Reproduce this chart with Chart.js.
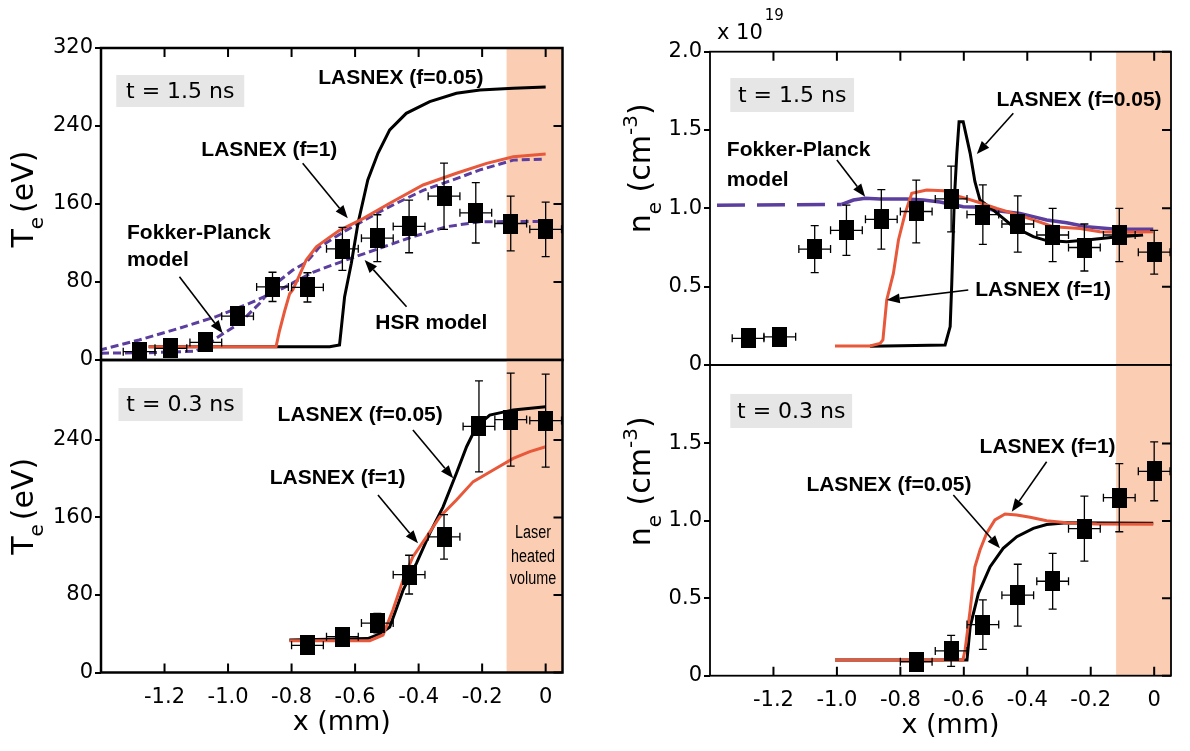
<!DOCTYPE html>
<html>
<head>
<meta charset="utf-8">
<title>Te and ne profiles</title>
<script src="https://cdn.jsdelivr.net/npm/chart.js@4.4.1/dist/chart.umd.min.js"></script>
<style>
  body { margin: 0; background: #fff; }
  #wrap { position: relative; width: 1190px; height: 751px; }
  #wrap canvas { position: absolute; left: 0; top: 0; }
</style>
</head>
<body>
<div id="wrap">
  <canvas id="teLate" width="1190" height="751"></canvas>
  <canvas id="teEarly" width="1190" height="751"></canvas>
  <canvas id="neLate" width="1190" height="751"></canvas>
  <canvas id="neEarly" width="1190" height="751"></canvas>
</div>
<script>
// ---------- axis ticks ----------
const xTicks = [-1.2, -1.0, -0.8, -0.6, -0.4, -0.2, 0];
const xTickLabels = ['-1.2', '-1.0', '-0.8', '-0.6', '-0.4', '-0.2', '0'];
const teTicksTop = [0, 80, 160, 240, 320];
const teLabelsTop = ['0', '80', '160', '240', '320'];
const teTicksBottom = [0, 80, 160, 240];
const teLabelsBottom = ['0', '80', '160', '240'];
const neTicksTop = [0, 0.5, 1.0, 1.5, 2.0];
const neLabelsTop = ['0', '0.5', '1.0', '1.5', '2.0'];
const neTicksBottom = [0, 0.5, 1.0, 1.5];
const neLabelsBottom = ['0', '0.5', '1.0', '1.5'];

// horizontal error of every measured point (mm)
const X_ERR = 0.05;

// ---------- Te, t = 1.5 ns ----------
const teLateX   = [-1.28, -1.18, -1.07, -0.97, -0.86, -0.75, -0.64, -0.53, -0.43, -0.32, -0.22, -0.11, 0];
const teLateY   = [8.5, 12, 18, 45, 75, 74.5, 114, 125, 137, 168, 151, 140, 134];
const teLateErr = [5, 5, 5, 8, 15, 15, 22, 24, 27, 34, 31, 28, 28];
const lasTeLate05X = [-1.25, -0.68, -0.649, -0.633, -0.612, -0.591, -0.56, -0.528, -0.491, -0.439, -0.365, -0.281, -0.207, -0.102, 0];
const lasTeLate05Y = [13.6, 13.6, 15.4, 65, 99, 140, 184.6, 212, 236, 253, 265, 273.5, 277, 278.7, 280];
const lasTeLate1X  = [-1.25, -0.849, -0.838, -0.822, -0.806, -0.796, -0.775, -0.754, -0.722, -0.68, -0.649, -0.575, -0.491, -0.386, -0.281, -0.186, -0.102, 0];
const lasTeLate1Y  = [13.6, 13.6, 30, 50, 68, 72, 87, 102.6, 116, 126, 133, 145, 160.7, 179.5, 191.5, 201.7, 208.5, 211.3];
const fpTeLateX  = [-1.40, -1.25, -1.10, -1.006, -0.964, -0.901, -0.849, -0.796, -0.754, -0.712, -0.628, -0.523, -0.47, -0.386, -0.281, -0.207, -0.102, -0.01];
const fpTeLateY  = [7, 7.5, 9, 29, 37.6, 58, 78.6, 92.3, 100, 116, 133, 152, 160.7, 174, 186, 195, 205, 206];
const hsrTeLateX = [-1.406, -1.28, -1.154, -1.038, -0.933, -0.828, -0.733, -0.628, -0.523, -0.418, -0.312, -0.207, -0.102, -0.01];
const hsrTeLateY = [10, 20.5, 32.5, 44.4, 58, 73.5, 90, 102.6, 114.6, 126.5, 136.7, 141.8, 142, 142];

// ---------- Te, t = 0.3 ns ----------
const teEarlyX   = [-0.75, -0.64, -0.53, -0.43, -0.32, -0.21, -0.11, 0];
const teEarlyY   = [28, 37, 51, 101, 140, 254, 261, 260];
const teEarlyErr = [5, 5, 10, 20, 23, 47, 48, 48];
const lasTeEarly05X = [-0.807, -0.56, -0.52, -0.491, -0.449, -0.407, -0.365, -0.323, -0.281, -0.249, -0.218, -0.176, -0.102, 0];
const lasTeEarly05Y = [33.5, 35, 40, 47, 85, 112.7, 143.6, 171, 205.6, 233, 253.7, 265.7, 271, 274.3];
const lasTeEarly1X  = [-0.807, -0.554, -0.512, -0.481, -0.449, -0.418, -0.375, -0.333, -0.281, -0.228, -0.165, -0.102, -0.05, 0];
const lasTeEarly1Y  = [32.8, 32.8, 38.7, 64.5, 95.5, 119.5, 140, 160.8, 178, 197, 209, 221, 228, 233];

// ---------- ne (1e19 cm^-3), t = 1.5 ns ----------
const neLateX   = [-1.28, -1.18, -1.07, -0.97, -0.86, -0.75, -0.64, -0.54, -0.43, -0.32, -0.22, -0.11, 0];
const neLateY   = [0.17, 0.18, 0.74, 0.86, 0.93, 0.98, 1.06, 0.96, 0.90, 0.83, 0.75, 0.83, 0.72];
const neLateErr = [0.02, 0.02, 0.15, 0.16, 0.19, 0.2, 0.21, 0.19, 0.18, 0.17, 0.15, 0.17, 0.14];
const lasNeLate05X = [-0.896, -0.659, -0.643, -0.638, -0.63, -0.622, -0.615, -0.602, -0.58, -0.565, -0.549, -0.507, -0.444, -0.381, -0.339, -0.276, -0.213, -0.129, -0.035];
const lasNeLate05Y = [0.12, 0.128, 0.245, 0.521, 1.053, 1.351, 1.553, 1.553, 1.351, 1.17, 1.053, 0.989, 0.883, 0.819, 0.794, 0.787, 0.798, 0.815, 0.83];
const lasNeLate1X  = [-1.006, -0.896, -0.864, -0.855, -0.843, -0.822, -0.806, -0.785, -0.764, -0.717, -0.665, -0.612, -0.549, -0.496, -0.444, -0.381, -0.318, -0.234, -0.171, -0.108, -0.003];
const lasNeLate1Y  = [0.121, 0.121, 0.138, 0.16, 0.415, 0.585, 0.798, 0.968, 1.096, 1.117, 1.113, 1.075, 1.036, 1.0, 0.968, 0.926, 0.883, 0.872, 0.851, 0.847, 0.851];
const fpNeLateX = [-1.378, -0.985, -0.948, -0.911, -0.864, -0.78, -0.728, -0.675, -0.602, -0.549, -0.496, -0.423, -0.339, -0.276, -0.213, -0.129, -0.003];
const fpNeLateY = [1.02, 1.025, 1.053, 1.064, 1.06, 1.06, 1.053, 1.04, 1.01, 1.007, 0.985, 0.968, 0.926, 0.908, 0.883, 0.868, 0.866];

// ---------- ne (1e19 cm^-3), t = 0.3 ns ----------
const neEarlyX   = [-0.75, -0.64, -0.54, -0.43, -0.32, -0.22, -0.11, 0];
const neEarlyY   = [0.09, 0.16, 0.33, 0.52, 0.61, 0.95, 1.15, 1.32];
const neEarlyErr = [0.02, 0.1, 0.16, 0.2, 0.18, 0.21, 0.22, 0.19];
const lasNeEarly05X = [-1.006, -0.59, -0.58, -0.554, -0.517, -0.476, -0.433, -0.381, -0.339, -0.276, -0.003];
const lasNeEarly05Y = [0.101, 0.101, 0.317, 0.532, 0.704, 0.823, 0.898, 0.952, 0.977, 0.988, 0.984];
const lasNeEarly1X  = [-1.006, -0.603, -0.596, -0.58, -0.565, -0.549, -0.528, -0.502, -0.47, -0.433, -0.391, -0.339, -0.276, -0.181, -0.003];
const lasNeEarly1Y  = [0.101, 0.101, 0.166, 0.424, 0.704, 0.812, 0.92, 1.006, 1.045, 1.038, 1.023, 1.001, 0.988, 0.98, 0.978];

// ---------- styling ----------
const BLACK = '#000', ORANGE = '#e8583a', PURPLE = '#5b3e9e', SHADE = '#fbcdb2', BOX = '#e6e6e6';
const FONT = '"DejaVu Sans", sans-serif';
const BOLD = 'bold 21px "Liberation Sans", Arial, sans-serif';
const FP_DASH_END = -0.99;

// square marker, a bit taller than wide like the original
const square = document.createElement('canvas');
square.width = 15; square.height = 20;
square.getContext('2d').fillRect(0, 0, 15, 20);

function pts(xs, ys) { return xs.map((x, i) => ({ x: x, y: ys[i] })); }

function curve(xs, ys, color, order, extra) {
  return Object.assign({
    data: pts(xs, ys), showLine: true, borderColor: color, borderWidth: 3,
    pointRadius: 0, pointHoverRadius: 0, fill: false, tension: 0, order: order
  }, extra || {});
}
function markers(xs, ys) {
  return { data: pts(xs, ys), showLine: false, pointStyle: square, pointRadius: 10, order: 0 };
}

function arrow(ctx, x0, y0, x1, y1) {
  const ang = Math.atan2(y1 - y0, x1 - x0), L = 13, W = 5;
  const bx = x1 - L * Math.cos(ang), by = y1 - L * Math.sin(ang);
  ctx.lineWidth = 1.6;
  ctx.beginPath(); ctx.moveTo(x0, y0); ctx.lineTo(bx, by); ctx.stroke();
  ctx.beginPath(); ctx.moveTo(x1, y1);
  ctx.lineTo(bx + W * Math.sin(ang), by - W * Math.cos(ang));
  ctx.lineTo(bx - W * Math.sin(ang), by + W * Math.cos(ang));
  ctx.closePath(); ctx.fill();
}

// rotated title made of pieces (for sub/superscripts)
function richTitle(ctx, parts, bx, cy) {
  ctx.save();
  ctx.translate(bx, cy);
  ctx.rotate(-Math.PI / 2);
  ctx.textAlign = 'left'; ctx.textBaseline = 'alphabetic';
  let total = 0;
  parts.forEach(p => { ctx.font = p.size + 'px ' + FONT; p.w = ctx.measureText(p.t).width; total += p.w + (p.gap || 0); });
  let x = -total / 2;
  parts.forEach(p => { ctx.font = p.size + 'px ' + FONT; ctx.fillText(p.t, x, p.dy || 0); x += p.w + (p.gap || 0); });
  ctx.restore();
}

function panelPlugin(p) {
  return {
    id: 'panel',
    beforeDatasetsDraw(chart) {
      const { ctx, chartArea: a, scales: { x, y } } = chart;
      ctx.save();
      const xs = x.getPixelForValue(p.laserFrom);
      ctx.fillStyle = SHADE;
      ctx.fillRect(xs, a.top, a.right - xs, a.bottom - a.top);
      const b = p.timeBox;
      const l = x.getPixelForValue(b.x0), r = x.getPixelForValue(b.x1);
      const t = y.getPixelForValue(b.y1), bt = y.getPixelForValue(b.y0);
      ctx.fillStyle = BOX;
      ctx.fillRect(l, t, r - l, bt - t);
      ctx.fillStyle = BLACK;
      ctx.font = '22px ' + FONT;
      ctx.textAlign = 'center'; ctx.textBaseline = 'middle';
      ctx.fillText(b.text, (l + r) / 2, (t + bt) / 2 + 1);
      ctx.restore();
    },
    afterDatasetsDraw(chart) {
      const { ctx, chartArea: a, scales: { x, y } } = chart;
      ctx.save();
      ctx.strokeStyle = BLACK; ctx.fillStyle = BLACK;

      // error bars
      ctx.lineWidth = 1.3;
      p.err.x.forEach((vx, i) => {
        const vy = p.err.y[i], e = p.err.e[i];
        const cx = x.getPixelForValue(vx), cy = y.getPixelForValue(vy);
        const x0 = x.getPixelForValue(vx - X_ERR), x1 = x.getPixelForValue(vx + X_ERR);
        const y0 = y.getPixelForValue(vy + e), y1 = y.getPixelForValue(vy - e);
        ctx.beginPath();
        ctx.moveTo(x0, cy); ctx.lineTo(x1, cy);
        ctx.moveTo(x0, cy - 4); ctx.lineTo(x0, cy + 4);
        ctx.moveTo(x1, cy - 4); ctx.lineTo(x1, cy + 4);
        ctx.moveTo(cx, y0); ctx.lineTo(cx, y1);
        ctx.moveTo(cx - 4, y0); ctx.lineTo(cx + 4, y0);
        ctx.moveTo(cx - 4, y1); ctx.lineTo(cx + 4, y1);
        ctx.stroke();
      });

      // frame and inward ticks
      ctx.lineWidth = p.frameW;
      ctx.strokeRect(a.left, a.top, a.right - a.left, a.bottom - a.top);
      ctx.lineWidth = 2;
      ctx.beginPath();
      xTicks.forEach(v => {
        const px = x.getPixelForValue(v);
        if (p.ticksTop) { ctx.moveTo(px, a.top); ctx.lineTo(px, a.top + 9); }
        if (p.ticksBottom) { ctx.moveTo(px, a.bottom); ctx.lineTo(px, a.bottom - 9); }
      });
      p.yTicks.forEach(v => {
        const py = y.getPixelForValue(v);
        ctx.moveTo(a.right, py); ctx.lineTo(a.right - 9, py);
      });
      ctx.stroke();

      // labels and arrows
      ctx.font = BOLD; ctx.textBaseline = 'middle';
      p.texts.forEach(t => {
        ctx.textAlign = t.align || 'center';
        ctx.fillText(t.text, x.getPixelForValue(t.x), y.getPixelForValue(t.y));
      });
      p.arrows.forEach(ar => arrow(ctx,
        x.getPixelForValue(ar[0]), y.getPixelForValue(ar[1]),
        x.getPixelForValue(ar[2]), y.getPixelForValue(ar[3])));

      if (p.laserText) {
        const lt = p.laserText;
        ctx.font = '18px "Liberation Sans", Arial, sans-serif';
        ctx.textAlign = 'center';
        lt.lines.forEach((s, i) => {
          ctx.save();
          ctx.translate(x.getPixelForValue(lt.x), y.getPixelForValue(lt.ys[i]));
          ctx.scale(0.8, 1);
          ctx.fillText(s, 0, 0);
          ctx.restore();
        });
      }

      // axis titles
      richTitle(ctx, p.yTitle, a.left - p.titleOff, (a.top + a.bottom) / 2 + p.titleDy);
      if (p.xLabels) {
        ctx.font = '27px ' + FONT;
        ctx.textAlign = 'center'; ctx.textBaseline = 'middle';
        ctx.fillText('x (mm)', (a.left + a.right) / 2 + 10, a.bottom + 50);
      }
      if (p.exponent) {
        ctx.font = '21px ' + FONT;
        ctx.textAlign = 'left'; ctx.textBaseline = 'middle';
        ctx.fillText('x 10', a.left + 7, a.top - 18);
        const w = ctx.measureText('x 10').width;
        ctx.font = '15px ' + FONT;
        ctx.fillText('19', a.left + 9 + w, a.top - 36);
      }
      ctx.restore();
    }
  };
}

function makeChart(id, p) {
  const a = p.area;
  const xH = p.xLabels ? 40 : 0;
  new Chart(document.getElementById(id), {
    type: 'scatter',
    data: { datasets: p.datasets },
    options: {
      responsive: false, animation: false, devicePixelRatio: 1, events: [],
      layout: { padding: { left: a.left - 60, right: 1190 - a.right, top: a.top,
        bottom: 751 - a.bottom - xH } },
      plugins: { legend: { display: false }, tooltip: { enabled: false } },
      scales: {
        x: {
          type: 'linear', min: -1.40, max: 0.053, display: p.xLabels,
          afterFit: s => { s.height = xH; },
          afterBuildTicks: s => { s.ticks = xTicks.map(v => ({ value: v })); },
          ticks: { callback: (v, i) => xTickLabels[i], color: BLACK, font: { family: FONT, size: 21 },
                   padding: 12, maxRotation: 0, autoSkip: false },
          grid: { display: false, drawTicks: false },
          border: { display: false }
        },
        y: {
          type: 'linear', min: p.yMin, max: p.yMax,
          afterFit: s => { s.width = 60; },
          afterBuildTicks: s => { s.ticks = p.yTicks.map(v => ({ value: v })); },
          ticks: { callback: (v, i) => p.yLabels[i], color: BLACK, font: { family: FONT, size: 21 },
                   padding: 2, autoSkip: false },
          grid: { drawOnChartArea: false, drawTicks: true, tickLength: 6, color: BLACK, lineWidth: 2 },
          border: { display: false }
        }
      }
    },
    plugins: [panelPlugin(p)]
  });
}

const teTitle = [{ t: 'T', size: 30 }, { t: 'e', size: 20, dy: 10, gap: 4 }, { t: '(eV)', size: 30 }];
const neTitle = [{ t: 'n', size: 30 }, { t: 'e', size: 20, dy: 11 }, { t: ' (cm', size: 30 },
                 { t: '-3', size: 20, dy: -13 }, { t: ')', size: 30 }];

makeChart('teLate', {
  area: { left: 101, right: 562.5, top: 48, bottom: 360 },
  yMin: 0, yMax: 320, yTicks: teTicksTop, yLabels: teLabelsTop,
  xLabels: false, ticksTop: true, ticksBottom: false, frameW: 2.5, laserFrom: -0.123,
  yTitle: teTitle, titleOff: 68, titleDy: -5,
  datasets: [
    markers(teLateX, teLateY),
    curve(lasTeLate1X, lasTeLate1Y, ORANGE, 2),
    curve(lasTeLate05X, lasTeLate05Y, BLACK, 3),
    curve(fpTeLateX, fpTeLateY, PURPLE, 4, { borderDash: [8, 4] }),
    curve(hsrTeLateX, hsrTeLateY, PURPLE, 4, { borderDash: [8, 4] })
  ],
  err: { x: teLateX, y: teLateY, e: teLateErr },
  timeBox: { x0: -1.352, x1: -0.949, y0: 259.5, y1: 292.3, text: 't = 1.5 ns' },
  texts: [
    { x: -0.456, y: 289, text: 'LASNEX (f=0.05)' },
    { x: -0.870, y: 215.4, text: 'LASNEX (f=1)' },
    { x: -1.318, y: 130.3, text: 'Fokker-Planck', align: 'left' },
    { x: -1.318, y: 102.6, text: 'model', align: 'left' },
    { x: -0.360, y: 37.6, text: 'HSR model' }
  ],
  arrows: [[-0.765, 201.7, -0.623, 145.3], [-1.153, 85.4, -1.017, 27.4], [-0.438, 54.7, -0.570, 102.6]]
});

makeChart('teEarly', {
  area: { left: 101, right: 562.5, top: 360, bottom: 672.5 },
  yMin: 0, yMax: 322.5, yTicks: teTicksBottom, yLabels: teLabelsBottom,
  xLabels: true, ticksTop: false, ticksBottom: true, frameW: 2.5, laserFrom: -0.123,
  yTitle: teTitle, titleOff: 68, titleDy: -10,
  datasets: [
    markers(teEarlyX, teEarlyY),
    curve(lasTeEarly1X, lasTeEarly1Y, ORANGE, 2),
    curve(lasTeEarly05X, lasTeEarly05Y, BLACK, 3)
  ],
  err: { x: teEarlyX, y: teEarlyY, e: teEarlyErr },
  timeBox: { x0: -1.345, x1: -0.954, y0: 259.5, y1: 293.6, text: 't = 0.3 ns' },
  texts: [
    { x: -0.584, y: 265.7, text: 'LASNEX (f=0.05)' },
    { x: -0.655, y: 200.4, text: 'LASNEX (f=1)' }
  ],
  arrows: [[-0.418, 250.3, -0.291, 200.4], [-0.528, 183.2, -0.402, 133.3]],
  laserText: { x: -0.040, ys: [143.9, 119.5, 96.2], lines: ['Laser', 'heated', 'volume'] }
});

makeChart('neLate', {
  area: { left: 710, right: 1171, top: 51.7, bottom: 365 },
  yMin: 0, yMax: 2.0, yTicks: neTicksTop, yLabels: neLabelsTop,
  xLabels: false, ticksTop: true, ticksBottom: false, frameW: 1.8, laserFrom: -0.12,
  yTitle: neTitle, titleOff: 60, titleDy: -40, exponent: true,
  datasets: [
    markers(neLateX, neLateY),
    curve(lasNeLate1X, lasNeLate1Y, ORANGE, 2),
    curve(lasNeLate05X, lasNeLate05Y, BLACK, 3),
    curve(fpNeLateX, fpNeLateY, PURPLE, 4, {
      borderWidth: 3.5,
      segment: { borderDash: c => (c.p0.parsed.x < FP_DASH_END ? [28, 12] : []) }
    })
  ],
  err: { x: neLateX, y: neLateY, e: neLateErr },
  timeBox: { x0: -1.336, x1: -0.946, y0: 1.615, y1: 1.832, text: 't = 1.5 ns' },
  texts: [
    { x: -0.237, y: 1.692, text: 'LASNEX (f=0.05)' },
    { x: -1.347, y: 1.372, text: 'Fokker-Planck', align: 'left' },
    { x: -1.347, y: 1.181, text: 'model', align: 'left' },
    { x: -0.35, y: 0.479, text: 'LASNEX (f=1)' }
  ],
  arrows: [[-0.444, 1.607, -0.559, 1.347], [-1.0, 1.309, -0.911, 1.074], [-0.586, 0.479, -0.843, 0.415]]
});

makeChart('neEarly', {
  area: { left: 710, right: 1171, top: 365, bottom: 675.7 },
  yMin: 0, yMax: 2.007, yTicks: neTicksBottom, yLabels: neLabelsBottom,
  xLabels: true, ticksTop: false, ticksBottom: true, frameW: 1.8, laserFrom: -0.12,
  yTitle: neTitle, titleOff: 60, titleDy: -39,
  datasets: [
    markers(neEarlyX, neEarlyY),
    curve(lasNeEarly1X, lasNeEarly1Y, ORANGE, 2),
    curve(lasNeEarly05X, lasNeEarly05Y, BLACK, 3)
  ],
  err: { x: neEarlyX, y: neEarlyY, e: neEarlyErr },
  timeBox: { x0: -1.336, x1: -0.952, y0: 1.600, y1: 1.820, text: 't = 0.3 ns' },
  texts: [
    { x: -0.336, y: 1.479, text: 'LASNEX (f=1)' },
    { x: -0.836, y: 1.232, text: 'LASNEX (f=0.05)' }
  ],
  arrows: [[-0.339, 1.382, -0.449, 1.059], [-0.633, 1.167, -0.486, 0.823]]
});
</script>
</body>
</html>
